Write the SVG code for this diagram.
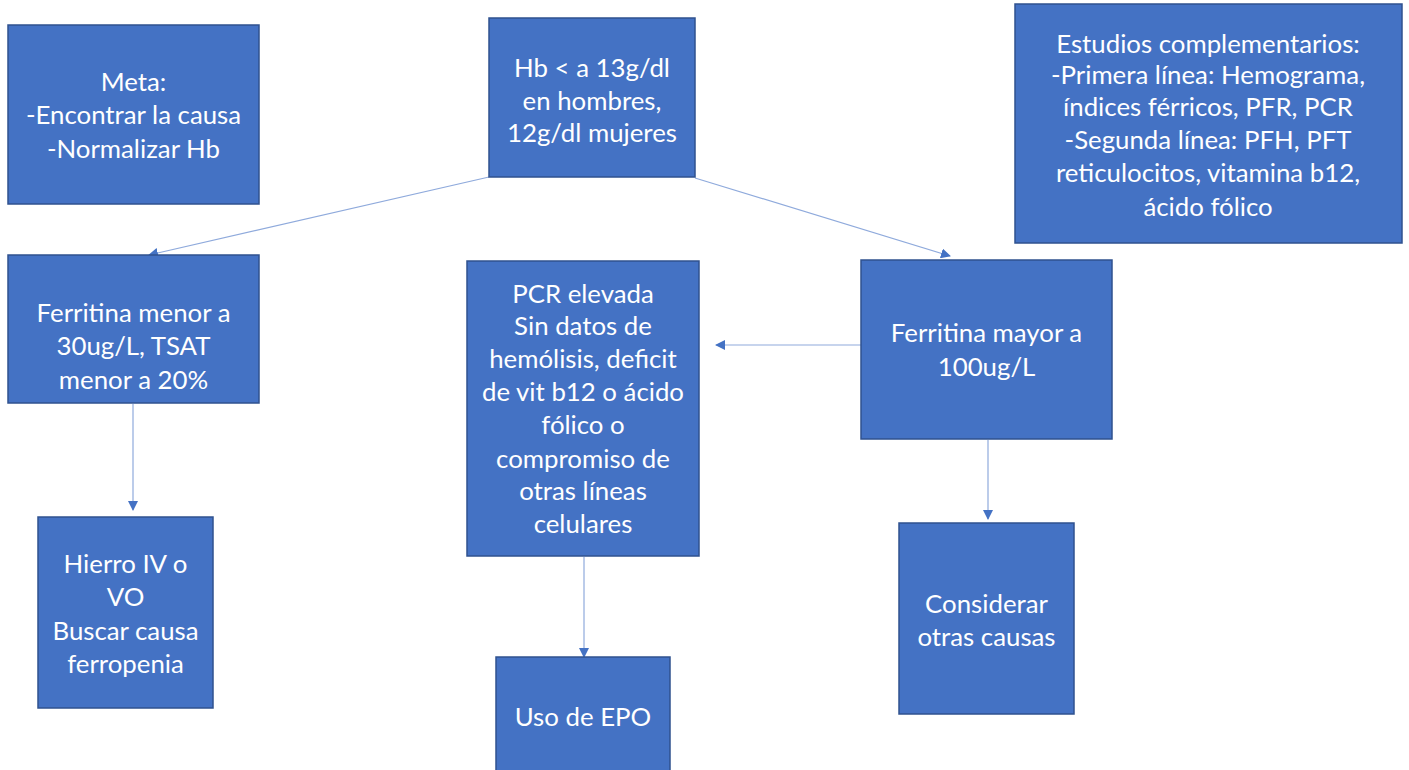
<svg xmlns="http://www.w3.org/2000/svg" width="1409" height="770" viewBox="0 0 1409 770">
<style>
.box{fill:#4472C4;stroke:#2F528F;stroke-width:1.5}
.t{font-family:Lato,"Liberation Sans",sans-serif;font-size:25.8px;fill:#fff;text-anchor:middle}
.c{stroke:#8FAADC;stroke-width:1.2;fill:none;marker-end:url(#ah)}
</style>
<defs>
<marker id="ah" markerWidth="10" markerHeight="10" refX="9" refY="5" orient="auto" markerUnits="userSpaceOnUse">
<path d="M0,0 L10,5 L0,10 z" fill="#4472C4"/>
</marker>
</defs>
<rect width="1409" height="770" fill="#fff"/>
<g id="connectors">
<line class="c" x1="489" y1="177" x2="149" y2="255"/>
<line class="c" x1="695" y1="178" x2="950" y2="256"/>
<line class="c" x1="861" y1="345" x2="716" y2="345"/>
<line class="c" x1="133" y1="404" x2="133" y2="510"/>
<line class="c" x1="584" y1="557" x2="584" y2="657"/>
<line class="c" x1="988" y1="440" x2="988" y2="519"/>
</g>
<g id="meta">
<rect class="box" x="8" y="25" width="251" height="179"/>
<text class="t" x="133.5" y="91">Meta:</text>
<text class="t" x="133.5" y="124">-Encontrar la causa</text>
<text class="t" x="133.5" y="158">-Normalizar Hb</text>
</g>
<g id="hb">
<rect class="box" x="489" y="18" width="206" height="159"/>
<text class="t" x="592" y="77">Hb &lt; a 13g/dl</text>
<text class="t" x="592" y="110">en hombres,</text>
<text class="t" x="592" y="142">12g/dl mujeres</text>
</g>
<g id="estudios">
<rect class="box" x="1015" y="4" width="387" height="239"/>
<text class="t" x="1208" y="53">Estudios complementarios:</text>
<text class="t" x="1208" y="84">-Primera línea: Hemograma,</text>
<text class="t" x="1208" y="116">índices férricos, PFR, PCR</text>
<text class="t" x="1208" y="149">-Segunda línea: PFH, PFT</text>
<text class="t" x="1208" y="182">reticulocitos, vitamina b12,</text>
<text class="t" x="1208" y="216">ácido fólico</text>
</g>
<g id="ferritina-menor">
<rect class="box" x="8" y="255" width="251" height="148"/>
<text class="t" x="133.5" y="322">Ferritina menor a</text>
<text class="t" x="133.5" y="355">30ug/L, TSAT</text>
<text class="t" x="133.5" y="389">menor a 20%</text>
</g>
<g id="pcr">
<rect class="box" x="467" y="261" width="232" height="295"/>
<text class="t" x="583" y="303">PCR elevada</text>
<text class="t" x="583" y="335">Sin datos de</text>
<text class="t" x="583" y="368">hemólisis, deficit</text>
<text class="t" x="583" y="401">de vit b12 o ácido</text>
<text class="t" x="583" y="434">fólico o</text>
<text class="t" x="583" y="468">compromiso de</text>
<text class="t" x="583" y="500">otras líneas</text>
<text class="t" x="583" y="533">celulares</text>
</g>
<g id="ferritina-mayor">
<rect class="box" x="861" y="260" width="251" height="179"/>
<text class="t" x="986.5" y="342">Ferritina mayor a</text>
<text class="t" x="986.5" y="376">100ug/L</text>
</g>
<g id="hierro">
<rect class="box" x="38" y="517" width="175" height="191"/>
<text class="t" x="125.5" y="573">Hierro IV o</text>
<text class="t" x="125.5" y="606">VO</text>
<text class="t" x="125.5" y="640">Buscar causa</text>
<text class="t" x="125.5" y="673">ferropenia</text>
</g>
<g id="epo">
<rect class="box" x="496" y="657" width="174" height="120"/>
<text class="t" x="583" y="726">Uso de EPO</text>
</g>
<g id="considerar">
<rect class="box" x="899" y="523" width="175" height="191"/>
<text class="t" x="986.5" y="613">Considerar</text>
<text class="t" x="986.5" y="646">otras causas</text>
</g>
</svg>
